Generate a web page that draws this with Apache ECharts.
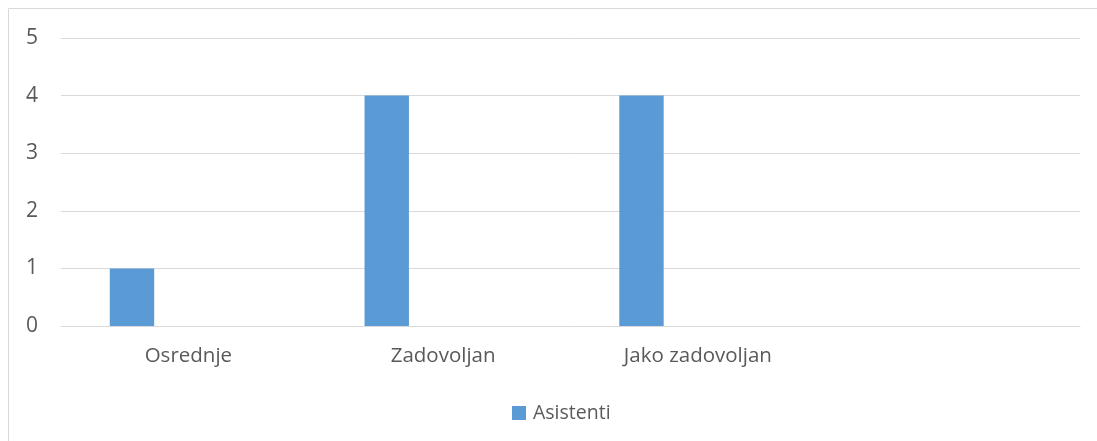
<!DOCTYPE html>
<html>
<head>
<meta charset="utf-8">
<script src="https://cdn.jsdelivr.net/npm/echarts@6/dist/echarts.min.js"></script>
<style>
  html, body { margin: 0; padding: 0; background: #fff; }
  #chart { width: 1097px; height: 441px; }
</style>
</head>
<body>
<div id="chart"></div>
<script>
// categories on the x axis (the last one is empty in the source sheet)
var categories = ['Osrednje', 'Zadovoljan', 'Jako zadovoljan', ''];
// only one visible series, the other two are empty columns
var asistenti = [1, 4, 4, '-'];
var emptyA = ['-', '-', '-', '-'];
var emptyB = ['-', '-', '-', '-'];
var yTicks = { min: 0, max: 5, step: 1 };

var chart = echarts.init(document.getElementById('chart'));
var font = '"Open Sans", "Noto Sans", sans-serif';
var option = {
    backgroundColor: '#fff',
    animation: false,
    graphic: [{
        type: 'rect',
        shape: { x: 8.5, y: 8.5, width: 1200, height: 600 },
        style: { fill: 'none', stroke: '#d9d9d9', lineWidth: 1 },
        silent: true
    }],
    grid: { left: 61, right: 17, top: 38, bottom: 115 },
    legend: {
        data: ['Asistenti'],
        left: 507,
        top: 398,
        icon: 'rect',
        itemWidth: 14,
        itemHeight: 14,
        textStyle: { color: '#595959', fontSize: 19.5, fontFamily: font, padding: [0, 0, 0, 2] }
    },
    xAxis: {
        type: 'category',
        data: categories,
        axisLine: { lineStyle: { color: '#d9d9d9', width: 1 } },
        axisTick: { show: false },
        axisLabel: { color: '#595959', fontSize: 20.5, fontFamily: font, margin: 20 }
    },
    yAxis: {
        type: 'value',
        min: yTicks.min,
        max: yTicks.max,
        interval: yTicks.step,
        axisLine: { show: false },
        axisTick: { show: false },
        axisLabel: { color: '#595959', fontSize: 21, fontFamily: font, margin: 23 },
        splitLine: { lineStyle: { color: '#d9d9d9', width: 1 } }
    },
    series: [
        {
            name: 'Asistenti',
            type: 'bar',
            data: asistenti,
            barWidth: 44.4,
            barGap: '27%',
            itemStyle: { color: '#5b9bd5' }
        },
        {
            name: 'empty1',
            type: 'bar',
            data: emptyA,
            barWidth: 44.4,
            barGap: '27%',
            itemStyle: { color: '#ed7d31' }
        },
        {
            name: 'empty2',
            type: 'bar',
            data: emptyB,
            barWidth: 44.4,
            barGap: '27%',
            itemStyle: { color: '#a5a5a5' }
        }
    ]
};
chart.setOption(option);
</script>
</body>
</html>
